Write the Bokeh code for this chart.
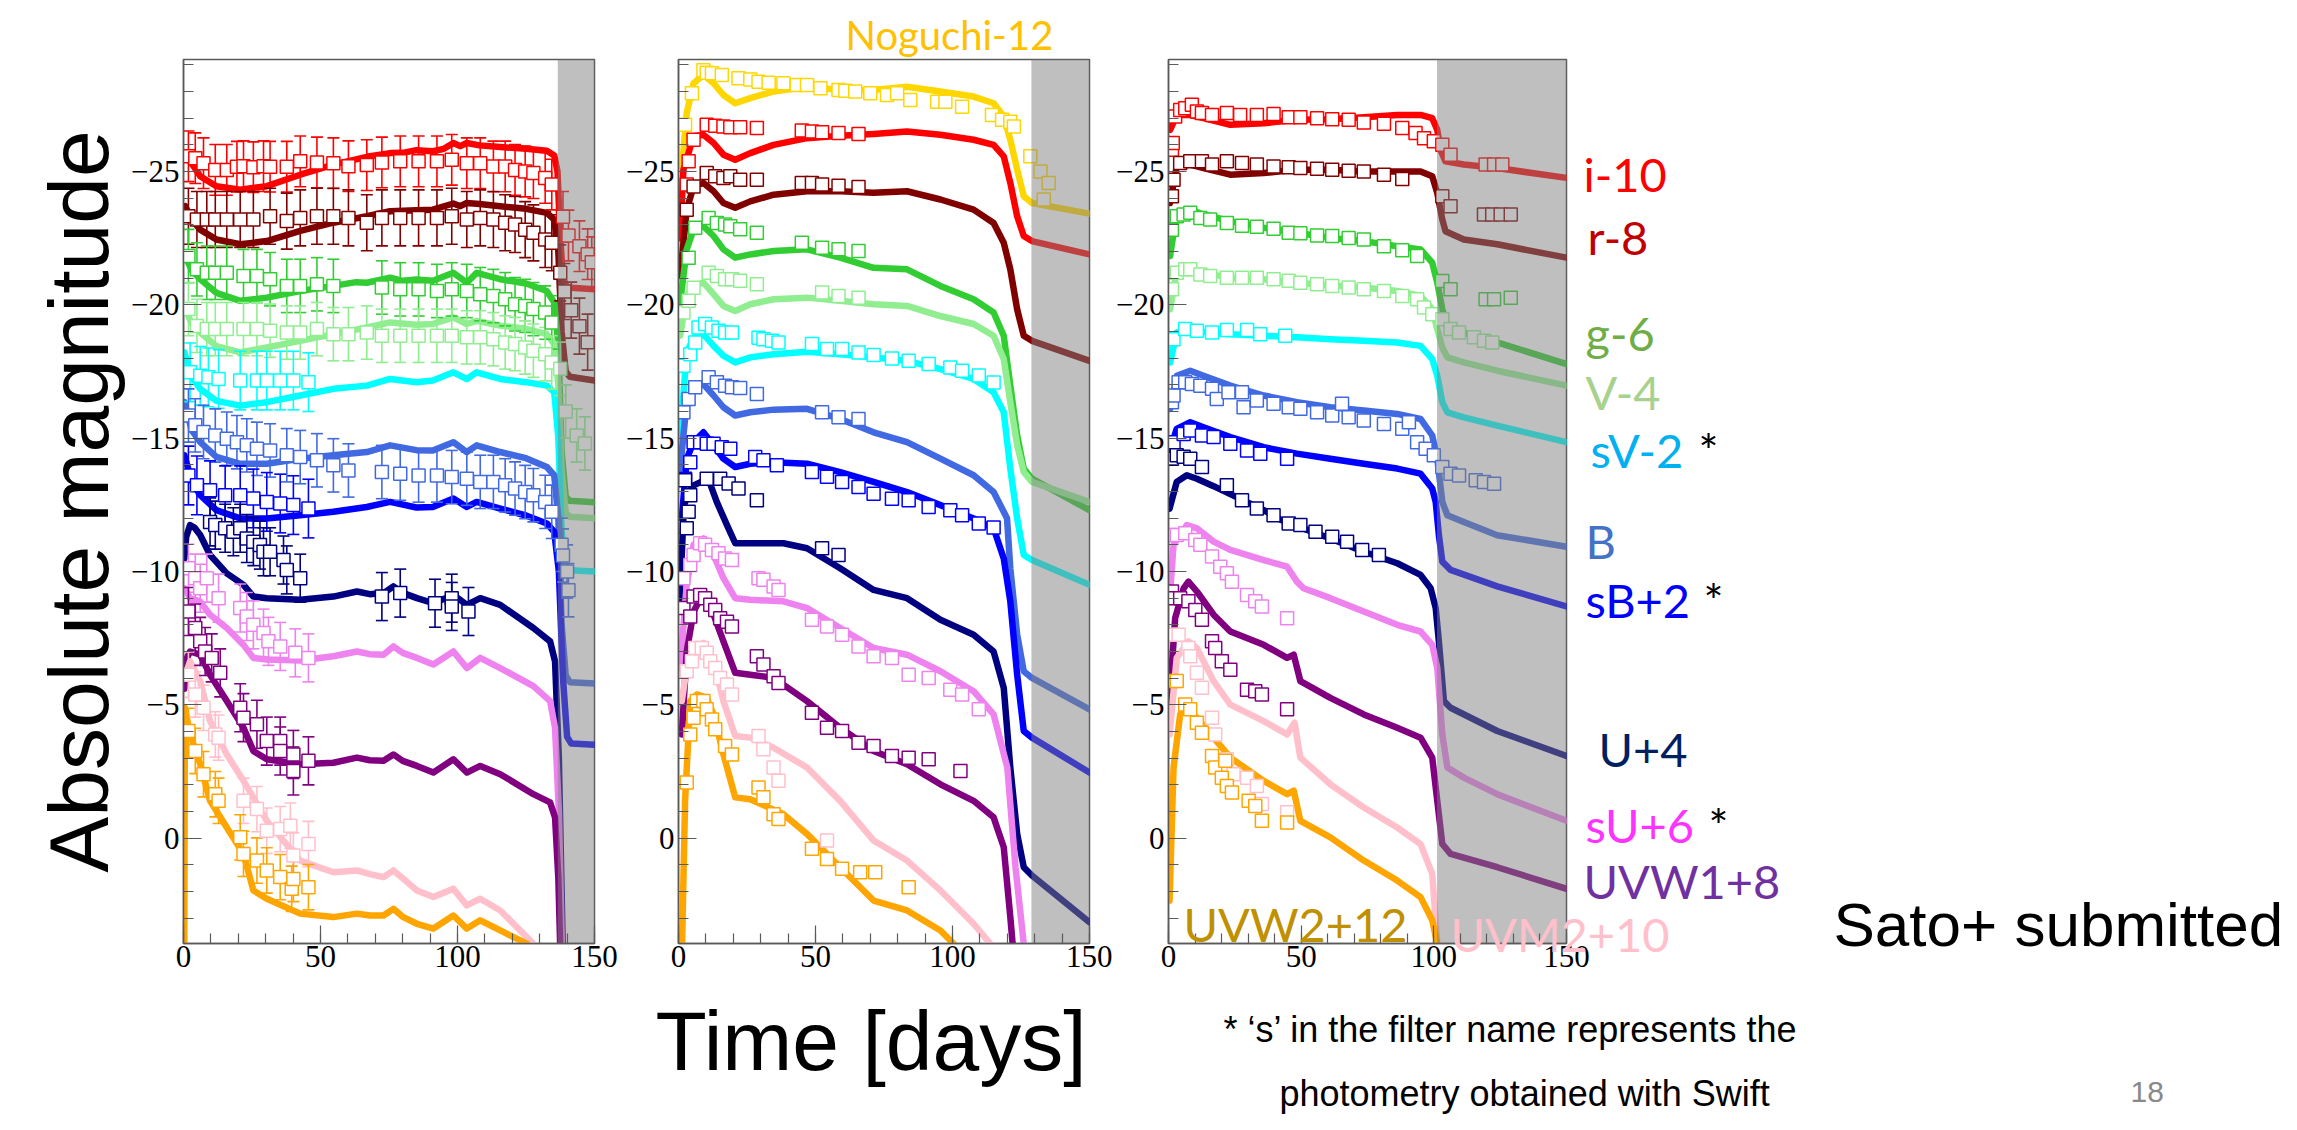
from bokeh.plotting import figure
from bokeh.models import Range1d, SingleIntervalTicker, CustomJSTickFormatter, Label, Title
from bokeh.layouts import row
from bokeh.embed import file_html
from bokeh.resources import INLINE

# ---------------------------------------------------------------- bands
BANDS = ["Noguchi", "i", "r", "g", "V", "sV", "B", "sB", "U", "sU", "UVW1", "UVM2", "UVW2"]
BAND_COLORS = ["#FFD700", "#FF0000", "#800000", "#32CD32", "#90EE90", "#00FFFF", "#4169E1",
               "#0000FF", "#000080", "#EE82EE", "#800080", "#FFC0CB", "#FFA500"]
P1_ERR = [0, 0.95, 1.05, 1.0, 1.0, 1.1, 1.0, 1.1, 0.9, 0.9, 0.9, 0.85, 0.85]
GREY_START = [136.6, 128.8, 101.2]

# ---------------------------------------------------------------- panel 1 models (t [d], mag)
p1_model_i = [(0.6,-25.6),(3,-25.3),(6.1,-24.82),(12,-24.45),(20.7,-24.32),(30.4,-24.45),(42.6,-24.88),(54.7,-25.26),(66.9,-25.55),(75.4,-25.69),(80,-25.7),(85,-25.8),(91,-25.76),(95,-25.85),(98.5,-26.07),(101,-25.95),(103.4,-26.07),(108,-25.98),(115.6,-25.92),(125,-25.85),(132.6,-25.78),(135.3,-25.6),(136.5,-25.0),(137.5,-22.5),(138.5,-21.0),(140,-20.65),(150,-20.58)]
p1_model_r = [(0.6,-23.7),(3,-23.2),(6.1,-22.82),(12,-22.45),(20.7,-22.27),(30.4,-22.39),(42.6,-22.77),(54.7,-23.08),(66.9,-23.32),(75.4,-23.51),(85,-23.55),(91,-23.57),(98.5,-23.8),(101,-23.7),(103.4,-23.82),(108,-23.78),(115.6,-23.7),(125,-23.6),(132.6,-23.45),(135.3,-23.2),(136.8,-22.0),(138,-19.0),(139.5,-17.5),(141,-17.3),(150,-17.16)]
p1_model_g = [(0.6,-21.83),(3,-21.3),(6.1,-20.96),(12,-20.45),(20.7,-20.15),(30.4,-20.27),(42.6,-20.52),(54.7,-20.71),(63,-20.85),(66.9,-20.83),(75.4,-21.02),(80,-20.9),(85,-20.95),(91,-20.9),(98.5,-21.2),(103.4,-20.83),(107,-21.2),(115.6,-20.96),(125,-20.8),(132.6,-20.52),(135.3,-20.09),(136.8,-18.5),(138,-14.5),(139.5,-12.8),(141,-12.65),(150,-12.6)]
p1_model_V = [(0.6,-19.84),(3,-19.3),(6.1,-18.96),(12,-18.45),(20.7,-18.22),(30.4,-18.4),(42.6,-18.65),(54.7,-18.9),(66.9,-19.15),(75.4,-19.34),(85,-19.25),(91,-19.28),(98.5,-19.53),(103.4,-19.28),(107,-19.4),(115.6,-19.22),(125,-19.1),(132.6,-18.9),(135.3,-18.53),(136.8,-17.0),(138,-13.8),(139.5,-12.2),(141,-12.05),(150,-12.0)]
p1_model_sV = [(0.3,-18.22),(3,-17.3),(6.1,-16.85),(12,-16.4),(20.7,-16.22),(30.4,-16.35),(42.6,-16.6),(54.7,-16.85),(66.9,-16.97),(75.4,-17.22),(85,-17.1),(91,-17.16),(98.5,-17.47),(103.4,-17.22),(107,-17.47),(115.6,-17.22),(125,-17.1),(132.6,-16.97),(135.3,-16.72),(136.8,-15.0),(138,-11.5),(139.5,-10.2),(141,-10.05),(150,-10.0)]
p1_model_B = [(0.3,-16.35),(3,-15.3),(6.1,-14.85),(12,-14.3),(20.7,-14.04),(30.4,-14.04),(42.6,-14.23),(54.7,-14.36),(66.9,-14.48),(75.4,-14.73),(85,-14.55),(91,-14.54),(98.5,-14.85),(103.4,-14.48),(107,-14.73),(115.6,-14.48),(125,-14.25),(132.6,-13.92),(135.3,-13.61),(136.8,-12.0),(138,-8.0),(139.5,-6.1),(141,-5.85),(150,-5.8)]
p1_model_sB = [(0.3,-14.36),(3,-13.4),(6.1,-12.86),(12,-12.3),(20.7,-11.99),(30.4,-11.99),(42.6,-12.11),(54.7,-12.24),(66.9,-12.42),(75.4,-12.61),(85,-12.4),(91,-12.42),(98.5,-12.74),(103.4,-12.42),(107,-12.61),(115.6,-12.36),(125,-12.1),(132.6,-11.8),(135.3,-11.49),(137,-10.0),(138.5,-6.0),(140,-3.8),(141.5,-3.55),(150,-3.5)]
p1_model_U = [(0.3,-10.5),(1,-11.3),(2.4,-11.74),(4,-11.65),(6.1,-11.37),(9.7,-10.62),(15.8,-9.93),(21.9,-9.5),(25.5,-9.06),(30.4,-9.0),(42.6,-8.94),(54.7,-9.06),(63.3,-9.25),(68,-9.15),(73,-9.19),(76.6,-9.44),(80,-9.2),(85.2,-9.0),(91.2,-8.81),(98.5,-9.12),(103.4,-8.75),(108.3,-9.0),(115.6,-8.75),(127.7,-7.88),(133.8,-7.38),(135.6,-6.63),(137,-3.0),(138.5,4.5)]
p1_model_sU = [(0.4,-9.37),(2.4,-9.0),(6.1,-8.87),(9.7,-8.38),(15.8,-7.88),(21.9,-7.25),(25.5,-6.76),(30.4,-6.7),(42.6,-6.66),(54.7,-6.82),(63.3,-7.0),(68,-6.9),(73,-6.88),(76.6,-7.19),(80,-6.95),(85.2,-6.76),(91.2,-6.51),(98.5,-7.0),(103.4,-6.38),(108.3,-6.76),(115.6,-6.38),(127.7,-5.7),(133.8,-5.14),(135.6,-4.14),(137,-1.0),(138.2,4.5)]
p1_model_UVW1 = [(0.3,-5.6),(1,-6.7),(2.4,-7.0),(6.1,-6.88),(9.7,-6.13),(15.8,-5.14),(21.9,-4.14),(25.5,-3.27),(30.4,-2.96),(42.6,-2.77),(54.7,-2.83),(63.3,-3.02),(68,-2.92),(73,-2.9),(76.6,-3.14),(80,-2.9),(85.2,-2.71),(91.2,-2.46),(98.5,-2.96),(103.4,-2.46),(108.3,-2.71),(115.6,-2.4),(127.7,-1.65),(133.8,-1.34),(135.6,-0.78),(136.8,1.5),(137.6,4.5)]
p1_model_UVM2 = [(0.3,-6.0),(2.4,-6.63),(6.1,-5.89),(9.7,-4.39),(15.8,-3.14),(21.9,-2.15),(25.5,-1.53),(30.4,-0.65),(42.6,0.84),(54.7,1.28),(63.3,1.21),(68,1.35),(73,1.46),(76.6,1.21),(80,1.5),(85.2,1.96),(91.2,2.21),(98.5,1.9),(103.4,2.52),(108.3,2.27),(115.6,2.71),(127.7,3.96),(130,4.3)]
p1_model_UVW2 = [(0.3,4.0),(0.5,-4.9),(2.4,-3.89),(6.1,-2.77),(9.7,-1.4),(15.8,-0.4),(21.9,0.59),(25.5,1.96),(30.4,2.27),(42.6,2.83),(54.7,2.96),(63.3,2.83),(68,2.9),(73,2.9),(76.6,2.65),(80,2.95),(85.2,3.21),(91.2,3.39),(98.5,2.9),(103.4,3.39),(108.3,3.08),(115.6,3.46),(125.3,3.96),(127,4.3)]

# ---------------------------------------------------------------- panel 1 observations (t [d], mag)
p1_obs_i = [(1.8,-25.57),(4.3,-25.5),(7.3,-25.31),(11.6,-25.06),(15.8,-25.06),(19.5,-25.18),(21.9,-25.2),(25.5,-25.16),(29.2,-25.2),(31.6,-25.18),(37.7,-25.18),(42.6,-25.38),(48.7,-25.34),(54.7,-25.31),(60.2,-25.2),(66.9,-25.24),(72.4,-25.34),(79.1,-25.38),(85.8,-25.38),(92.5,-25.38),(97.9,-25.44),(103.4,-25.31),(108.3,-25.31),(113.1,-25.19),(117.4,-25.19),(121.0,-25.06),(124.7,-25.0),(127.7,-24.94),(132.0,-24.76),(134.4,-24.51),(138.5,-23.3),(140.5,-22.6),(144.5,-22.2),(147.5,-21.9),(149.0,-21.6)]
p1_obs_r = [(1.8,-23.32),(4.9,-23.2),(8.5,-23.2),(11.6,-23.2),(15.8,-23.2),(20.7,-23.2),(25.5,-23.2),(31.6,-23.32),(37.7,-23.14),(42.6,-23.26),(48.7,-23.32),(54.7,-23.32),(60.2,-23.26),(66.9,-23.08),(72.4,-23.26),(79.1,-23.26),(85.8,-23.26),(92.5,-23.26),(97.9,-23.32),(103.4,-23.2),(108.3,-23.26),(113.1,-23.2),(117.4,-23.08),(121.0,-23.01),(124.7,-22.82),(127.7,-22.7),(132.0,-22.45),(134.4,-22.33),(137.5,-21.2),(139,-20.5),(141.5,-19.8),(144.5,-19.2),(147.5,-18.6)]
p1_obs_g = [(1.8,-21.83),(4.9,-21.33),(8.5,-21.2),(11.6,-21.2),(15.8,-21.2),(21.9,-21.08),(26.8,-21.08),(31.6,-20.96),(37.7,-20.71),(42.6,-20.71),(48.7,-20.77),(54.7,-20.71),(72.4,-20.65),(79.1,-20.58),(85.8,-20.58),(92.5,-20.52),(97.9,-20.58),(103.4,-20.52),(108.3,-20.4),(113.1,-20.33),(117.4,-20.21),(121.0,-20.02),(124.7,-19.96),(127.7,-19.84),(132.0,-19.71),(134.4,-19.34)]
p1_obs_V = [(1.8,-19.84),(4.9,-19.21),(8.5,-19.09),(11.6,-19.09),(15.8,-19.09),(21.9,-19.09),(26.8,-19.09),(31.6,-19.03),(37.7,-18.96),(42.6,-18.96),(48.7,-19.09),(54.7,-18.9),(60.2,-18.9),(66.9,-18.96),(72.4,-18.84),(79.1,-18.84),(85.8,-18.84),(92.5,-18.84),(97.9,-18.84),(103.4,-18.78),(108.3,-18.78),(113.1,-18.71),(117.4,-18.59),(121.0,-18.53),(124.7,-18.4),(127.7,-18.28),(132.0,-18.15),(134.4,-17.84),(137.5,-17.6),(139.5,-16.0),(143.5,-15.1),(146.5,-14.8)]
p1_obs_sV = [(2.4,-17.47),(6.1,-17.34),(9.1,-17.28),(12.8,-17.22),(20.7,-17.16),(26.8,-17.16),(30.4,-17.16),(35.3,-17.16),(40.1,-17.16),(45.6,-17.1)]
p1_obs_B = [(1.8,-15.85),(4.3,-15.48),(7.3,-15.23),(11.6,-15.1),(15.8,-14.98),(19.5,-14.85),(23.1,-14.73),(26.8,-14.6),(31.6,-14.54),(37.7,-14.36),(42.6,-14.29),(48.7,-14.17),(54.7,-13.98),(60.2,-13.79),(72.4,-13.73),(79.1,-13.67),(85.8,-13.6),(92.5,-13.6),(97.9,-13.54),(103.4,-13.48),(108.3,-13.36),(113.1,-13.36),(117.4,-13.23),(121.0,-13.11),(124.7,-12.98),(127.7,-12.86),(132.0,-12.61),(134.4,-12.24),(138.0,-11.0),(138.5,-10.6),(140.0,-10.0),(140.5,-9.3)]
p1_obs_sB = [(1.8,-13.6),(4.9,-13.23),(9.7,-13.05),(15.2,-12.86),(20.7,-12.86),(25.5,-12.74),(30.4,-12.61),(35.3,-12.55),(40.1,-12.49),(45.6,-12.36)]
p1_obs_U = [(9.7,-11.86),(11.6,-11.74),(15.2,-11.62),(18.2,-11.49),(20.7,-11.62),(23.1,-11.24),(25.5,-11.12),(27.9,-10.99),(29.2,-10.74),(31.6,-10.74),(36.5,-10.43),(37.7,-10.06),(42.6,-9.75),(72.4,-9.06),(79.1,-9.19),(91.8,-8.81),(97.9,-9.0),(97.9,-8.69),(104.0,-8.5)]
p1_obs_sU = [(1.8,-10.12),(4.3,-9.75),(6.1,-9.37),(8.5,-9.75),(12.8,-9.0),(20.7,-8.63),(23.1,-8.31),(25.5,-8.0),(29.2,-7.69),(31.0,-7.38),(35.3,-7.19),(40.8,-6.95),(45.6,-6.76)]
p1_obs_UVW1 = [(1.8,-8.5),(4.3,-7.88),(6.1,-7.38),(7.9,-7.0),(10.3,-6.76),(13.4,-6.2),(20.7,-4.89),(21.9,-4.52),(26.8,-4.27),(30.4,-3.64),(35.3,-3.64),(35.3,-3.27),(40.1,-3.14),(40.1,-2.52),(45.6,-2.9)]
p1_obs_UVM2 = [(1.8,-6.13),(4.3,-5.39),(7.3,-4.89),(11.6,-3.89),(12.8,-3.77),(21.9,-1.4),(26.8,-1.09),(30.4,-0.28),(35.3,-0.34),(39.0,-0.47),(40.1,0.65),(45.6,0.22)]
p1_obs_UVW2 = [(1.8,-4.02),(4.3,-3.27),(7.3,-2.4),(11.6,-1.65),(12.8,-1.4),(20.7,-0.03),(21.9,0.59),(26.8,0.84),(30.4,1.21),(35.3,1.46),(39.5,1.9),(40.1,1.53),(45.6,1.84)]

# ---------------------------------------------------------------- panel 2 models
p2_model_Noguchi = [(0.6,-22.0),(1.2,-25.07),(3.0,-27.19),(5.5,-28.31),(9.1,-28.62),(12.8,-28.31),(16.4,-27.87),(20.7,-27.56),(26.2,-27.75),(34.7,-28.0),(46.9,-28.18),(59.0,-28.06),(71.2,-28.06),(83.4,-28.18),(95.6,-28.0),(107.7,-27.81),(115.0,-27.56),(118.7,-27.06),(121.1,-26.19),(123.6,-25.07),(126.0,-24.07),(129.0,-23.82),(150,-23.42)]
p2_model_i = [(0.6,-22.5),(1.8,-25.07),(5.5,-26.32),(9.1,-26.38),(12.8,-26.07),(16.4,-25.63),(20.7,-25.44),(26.2,-25.69),(34.7,-26.0),(46.9,-26.25),(59.0,-26.34),(71.2,-26.41),(83.4,-26.5),(95.6,-26.38),(107.7,-26.19),(115.0,-26.0),(118.7,-25.57),(121.1,-24.57),(123.6,-23.32),(126.0,-22.58),(129.0,-22.39),(150,-21.89)]
p2_model_r = [(0.6,-21.08),(3.0,-23.57),(5.5,-24.44),(9.1,-24.57),(12.8,-24.26),(16.4,-23.82),(20.7,-23.64),(26.2,-23.88),(34.7,-24.13),(46.9,-24.26),(59.0,-24.26),(71.2,-24.2),(83.4,-24.26),(95.6,-23.95),(107.7,-23.57),(115.0,-23.07),(118.7,-22.33),(121.1,-21.33),(123.6,-19.83),(126.0,-18.84),(129.0,-18.65),(150,-17.9)]
p2_model_g = [(0.6,-20.08),(3.0,-22.08),(5.5,-22.83),(9.1,-22.95),(12.8,-22.58),(16.4,-22.08),(20.7,-21.77),(26.2,-21.89),(34.7,-22.02),(46.9,-22.08),(59.0,-21.77),(71.2,-21.39),(83.4,-21.33),(95.6,-20.71),(107.7,-20.21),(115.0,-19.71),(118.7,-18.84),(121.1,-16.97),(123.6,-15.1),(126.0,-13.86),(129.0,-13.48),(150,-12.3)]
p2_model_V = [(0.6,-18.84),(3.0,-20.33),(5.5,-20.71),(9.1,-20.83),(12.8,-20.4),(16.4,-19.96),(20.7,-19.77),(26.2,-20.02),(34.7,-20.21),(46.9,-20.27),(59.0,-20.15),(71.2,-20.02),(83.4,-19.96),(95.6,-19.58),(107.7,-19.28),(115.0,-18.84),(118.7,-17.97),(121.1,-16.35),(123.6,-14.73),(126.0,-13.73),(129.0,-13.36),(150,-12.61)]
p2_model_sV = [(0.6,-15.1),(3.0,-18.21),(5.5,-18.77),(9.1,-18.9),(12.8,-18.46),(16.4,-18.09),(20.7,-17.84),(26.2,-18.03),(34.7,-18.15),(46.9,-18.24),(59.0,-18.15),(71.2,-18.03),(83.4,-17.9),(95.6,-17.59),(107.7,-17.22),(115.0,-16.72),(118.7,-15.97),(121.1,-13.86),(123.6,-11.99),(126.0,-10.62),(129.0,-10.43),(150,-9.5)]
p2_model_B = [(0.6,-13.86),(3.0,-16.35),(5.5,-16.85),(9.1,-17.03),(12.8,-16.6),(16.4,-16.16),(20.7,-15.85),(26.2,-15.97),(34.7,-16.07),(46.9,-16.1),(59.0,-15.72),(71.2,-15.22),(83.4,-14.85),(95.6,-14.23),(107.7,-13.61),(115.0,-12.98),(118.7,-12.24),(119.9,-11.99),(121.1,-10.12),(123.6,-7.63),(126.0,-6.26),(129.0,-6.01),(150,-4.83)]
p2_model_sB = [(1.2,-11.99),(3.0,-14.23),(5.5,-14.85),(9.1,-15.22),(12.8,-14.73),(16.4,-14.23),(20.7,-13.92),(26.2,-14.04),(34.7,-14.1),(46.9,-14.04),(59.0,-13.73),(71.2,-13.36),(83.4,-12.98),(95.6,-12.49),(107.7,-11.99),(115.0,-11.62),(118.7,-10.49),(121.1,-8.88),(123.6,-6.13),(126.0,-4.02),(129.0,-3.77),(150,-2.46)]
p2_model_U = [(0.5,-9.0),(2.0,-12.5),(5.0,-13.2),(9.0,-13.4),(11.5,-13.3),(14.0,-12.6),(17.7,-11.74),(20.7,-11.06),(26.2,-11.06),(38.3,-11.06),(46.9,-10.87),(59.0,-10.12),(71.2,-9.31),(83.4,-9.0),(95.6,-8.19),(107.7,-7.63),(115.0,-7.0),(118.7,-5.64),(121.1,-2.65),(123.6,-0.16),(126.0,1.09),(129.0,1.4),(150,3.15)]
p2_model_sU = [(0.6,-6.38),(3.0,-9.5),(5.5,-11.0),(9.1,-11.24),(12.8,-10.62),(16.4,-9.75),(20.7,-9.0),(26.2,-8.94),(38.3,-8.88),(46.9,-8.63),(59.0,-7.88),(71.2,-7.13),(83.4,-6.88),(95.6,-6.26),(107.7,-5.51),(115.0,-4.64),(120.0,-2.65),(123.0,1.09),(126.0,3.96),(127,4.5)]
p2_model_UVW1 = [(1.2,-3.89),(3.0,-7.0),(5.5,-8.5),(9.1,-9.19),(12.8,-8.38),(16.4,-7.38),(20.7,-6.2),(26.2,-6.13),(34.7,-6.01),(46.9,-5.14),(59.0,-4.14),(71.2,-3.27),(83.4,-2.77),(95.6,-2.02),(107.7,-1.4),(115.0,-0.78),(118.7,0.34),(121.1,2.96),(122.4,4.5)]
p2_model_UVM2 = [(1.2,-5.14),(3.0,-6.38),(5.5,-7.0),(9.1,-7.32),(12.8,-6.63),(16.4,-5.14),(20.7,-3.83),(26.2,-3.77),(34.7,-3.39),(46.9,-2.65),(59.0,-1.4),(71.2,0.09),(83.4,0.84),(95.6,1.96),(107.7,3.21),(113.8,3.96),(115,4.3)]
p2_model_UVW2 = [(1.2,4.5),(2.4,-1.4),(4.3,-5.14),(6.7,-5.39),(10.3,-5.26),(12.8,-4.64),(16.4,-3.14),(20.7,-1.53),(26.2,-1.46),(38.3,-0.9),(46.9,-0.16),(59.0,1.09),(71.2,2.34),(83.4,2.71),(95.6,3.46),(100.4,3.96),(101.5,4.3)]

# ---------------------------------------------------------------- panel 2 observations
p2_obs_Noguchi = [(2.4,-26.75),(4.9,-27.93),(9.1,-28.8),(10.3,-28.7),(12.2,-28.68),(15.8,-28.62),(21.9,-28.5),(26.2,-28.45),(29.2,-28.37),(32.9,-28.33),(38.3,-28.31),(43.2,-28.24),(46.9,-28.24),(51.8,-28.12),(58.4,-28.06),(60.9,-28.03),(64.5,-28.0),(70.0,-27.93),(76.1,-27.87),(79.8,-27.93),(84.6,-27.68),(94.4,-27.62),(97.4,-27.62),(103.5,-27.43),(114.4,-27.12),(118.1,-26.94),(121.1,-26.87),(122.4,-26.69),(128.4,-25.57),(132.1,-25.0),(135.1,-24.57),(133.3,-23.95)]
p2_obs_i = [(3.0,-24.51),(3.7,-25.38),(5.5,-26.19),(10.3,-26.75),(13.4,-26.72),(16.4,-26.69),(18.9,-26.66),(22.5,-26.66),(28.6,-26.63),(45.0,-26.54),(48.7,-26.5),(52.4,-26.47),(58.4,-26.44),(65.7,-26.41)]
p2_obs_r = [(3.0,-23.57),(5.5,-24.44),(10.3,-24.94),(13.4,-24.82),(16.4,-24.76),(18.9,-24.82),(22.5,-24.69),(28.6,-24.69),(45.0,-24.57),(48.7,-24.57),(52.4,-24.51),(58.4,-24.47),(65.7,-24.42)]
p2_obs_g = [(3.7,-21.77),(6.1,-22.89),(11.0,-23.26),(14.0,-23.07),(17.0,-23.01),(18.9,-22.95),(22.5,-22.83),(28.6,-22.7),(45.0,-22.33),(52.4,-22.14),(58.4,-22.08),(65.7,-22.02)]
p2_obs_V = [(1.8,-19.71),(3.7,-20.15),(5.5,-20.64),(11.0,-21.2),(14.0,-21.08),(17.0,-20.96),(19.5,-20.96),(22.5,-20.9),(28.6,-20.77),(52.4,-20.46),(58.4,-20.33),(65.7,-20.27)]
p2_obs_sV = [(1.8,-17.72),(4.3,-18.15),(6.1,-18.59),(7.3,-19.15),(9.7,-19.28),(12.2,-19.15),(14.6,-19.03),(17.0,-18.96),(19.5,-18.96),(29.2,-18.77),(31.0,-18.71),(34.1,-18.65),(36.5,-18.59),(48.7,-18.53),(54.2,-18.34),(59.7,-18.34),(65.7,-18.21),(71.2,-18.12),(77.9,-17.99),(84.0,-17.9),(91.3,-17.78),(99.2,-17.65),(103.5,-17.53),(109.6,-17.35),(115.0,-17.09)]
p2_obs_B = [(1.8,-15.97),(3.7,-16.47),(6.1,-16.91),(11.0,-17.28),(14.0,-17.1),(17.0,-16.97),(19.5,-16.91),(22.5,-16.88),(28.6,-16.66),(52.4,-15.97),(58.4,-15.78),(65.7,-15.72)]
p2_obs_sB = [(2.4,-13.48),(4.3,-14.1),(5.5,-14.85),(7.9,-14.85),(10.3,-14.79),(12.8,-14.79),(15.8,-14.66),(18.9,-14.6),(28.0,-14.29),(31.0,-14.17),(35.9,-13.98),(48.7,-13.73),(54.2,-13.55),(59.7,-13.36),(65.7,-13.17),(71.2,-12.92),(77.9,-12.73),(84.0,-12.67),(91.3,-12.42),(99.2,-12.3),(103.5,-12.11),(109.6,-11.8),(115.0,-11.65)]
p2_obs_U = [(2.4,-13.42),(3.0,-11.62),(3.7,-12.24),(4.3,-12.86),(10.3,-13.48),(15.2,-13.48),(18.3,-13.3),(21.9,-13.11),(28.6,-12.67),(52.4,-10.87),(58.4,-10.62)]
p2_obs_sU = [(1.8,-9.75),(4.3,-10.24),(5.5,-10.62),(7.9,-11.06),(9.7,-11.0),(12.2,-10.81),(14.6,-10.68),(17.0,-10.49),(19.5,-10.43),(29.2,-9.75),(31.0,-9.69),(34.7,-9.44),(36.5,-9.31),(48.7,-8.19),(54.2,-7.94),(59.7,-7.63),(65.7,-7.19),(71.2,-6.82),(77.9,-6.76),(84.0,-6.13),(91.3,-6.01),(99.2,-5.57),(103.5,-5.39),(109.6,-4.83)]
p2_obs_UVW1 = [(1.8,-8.63),(4.3,-8.31),(5.5,-9.06),(7.9,-9.12),(9.7,-9.0),(11.6,-8.75),(13.4,-8.56),(15.2,-8.25),(17.7,-8.12),(19.5,-7.94),(28.6,-6.82),(31.0,-6.51),(34.7,-6.07),(36.5,-5.82),(48.7,-4.7),(54.2,-4.14),(59.7,-4.02),(65.7,-3.58),(71.2,-3.46),(77.9,-3.08),(84.0,-3.02),(91.3,-2.96),(102.9,-2.52)]
p2_obs_UVM2 = [(3.0,-6.26),(4.9,-6.63),(6.1,-7.13),(8.5,-7.13),(10.3,-6.95),(11.6,-6.63),(13.4,-6.38),(15.2,-6.01),(17.7,-5.76),(19.5,-5.39),(29.2,-3.83),(31.0,-3.33),(34.7,-2.65),(36.5,-2.15),(54.2,0.09)]
p2_obs_UVW2 = [(3.0,-2.09),(4.3,-3.89),(5.5,-4.52),(6.7,-5.14),(9.1,-5.14),(10.3,-4.83),(12.2,-4.45),(13.4,-4.08),(17.0,-3.46),(19.5,-3.14),(29.2,-1.9),(31.0,-1.53),(34.7,-0.9),(36.5,-0.72),(48.7,0.4),(54.2,0.78),(59.7,1.15),(66.3,1.28),(71.8,1.28),(84.0,1.84)]

# ---------------------------------------------------------------- panel 3 models
p3_model_i = [(0.6,-26.56),(3.1,-27.12),(8.2,-27.12),(13.2,-27.0),(23.3,-26.75),(35.9,-26.81),(48.4,-26.94),(61.0,-26.96),(73.6,-27.03),(86.2,-27.12),(95.0,-27.12),(99.4,-27.0),(101.3,-26.56),(102.5,-25.82),(104.4,-25.38),(111.3,-25.26),(123.9,-25.13),(150,-24.76)]
p3_model_r = [(0.6,-23.82),(3.1,-25.19),(8.2,-25.26),(13.2,-25.13),(23.3,-24.88),(35.9,-24.94),(48.4,-25.07),(61.0,-25.07),(73.6,-25.0),(86.2,-25.0),(95.0,-25.0),(99.4,-24.82),(101.3,-24.19),(103.2,-23.2),(104.4,-22.76),(111.3,-22.45),(123.9,-22.27),(150,-21.77)]
p3_model_g = [(0.6,-21.83),(3.1,-23.45),(8.2,-23.57),(13.2,-23.39),(23.3,-23.14),(35.9,-22.89),(48.4,-22.7),(61.0,-22.51),(73.6,-22.39),(86.2,-22.2),(95.0,-22.08),(99.4,-21.58),(101.3,-20.83),(103.2,-19.83),(105.1,-19.21),(111.3,-18.96),(123.9,-18.59),(150,-17.78)]
p3_model_V = [(0.6,-19.84),(3.1,-21.27),(8.2,-21.39),(13.2,-21.2),(23.3,-21.02),(35.9,-20.96),(48.4,-20.83),(61.0,-20.73),(73.6,-20.65),(86.2,-20.52),(95.0,-20.33),(99.4,-19.84),(101.3,-19.09),(103.2,-18.4),(105.1,-18.03),(111.3,-17.84),(123.9,-17.53),(150,-16.97)]
p3_model_sV = [(0.6,-17.84),(3.1,-18.96),(8.2,-19.03),(23.3,-18.9),(35.9,-18.84),(48.4,-18.78),(61.0,-18.71),(73.6,-18.65),(86.2,-18.59),(95.0,-18.46),(99.4,-17.97),(101.3,-17.34),(103.2,-16.35),(105.1,-15.97),(111.3,-15.78),(123.9,-15.47),(150,-14.85)]
p3_model_B = [(0.6,-16.1),(3.1,-17.34),(8.2,-17.53),(13.2,-17.34),(23.3,-16.97),(35.9,-16.6),(48.4,-16.35),(61.0,-16.16),(73.6,-16.04),(86.2,-15.91),(95.0,-15.72),(99.4,-15.1),(101.3,-14.23),(103.2,-12.61),(105.1,-12.11),(111.3,-11.86),(123.9,-11.36),(150,-10.93)]
p3_model_sB = [(0.4,-14.48),(3.1,-15.35),(8.2,-15.6),(13.2,-15.41),(23.3,-15.04),(35.9,-14.66),(48.4,-14.42),(61.0,-14.23),(73.6,-14.04),(86.2,-13.86),(95.0,-13.67),(99.4,-13.11),(100.7,-12.61),(101.9,-11.37),(103.2,-10.37),(106.3,-10.06),(123.9,-9.44),(150,-8.69)]
p3_model_U = [(0.4,-12.36),(3.1,-13.36),(6.9,-13.61),(10.7,-13.48),(17.0,-13.2),(23.3,-12.9),(35.9,-12.3),(42.1,-11.95),(48.4,-11.7),(61.0,-11.24),(73.6,-10.74),(86.2,-10.31),(95.0,-9.87),(98.8,-9.37),(100.7,-8.63),(101.9,-7.38),(103.8,-5.14),(106.3,-4.89),(123.9,-4.02),(150,-3.08)]
p3_model_sU = [(0.4,-8.88),(1.9,-11.0),(6.9,-11.74),(10.7,-11.62),(17.0,-11.12),(23.3,-10.81),(35.9,-10.43),(44.7,-10.18),(48.4,-9.62),(50.9,-9.37),(61.0,-9.0),(73.6,-8.5),(86.2,-8.0),(95.0,-7.75),(99.4,-7.25),(101.3,-6.38),(103.2,-3.89),(105.1,-2.65),(111.3,-2.27),(123.9,-1.65),(150,-0.65)]
p3_model_UVW1 = [(0.4,-5.14),(2.5,-8.25),(5.7,-9.37),(7.5,-9.62),(10.7,-9.25),(17.0,-8.38),(23.3,-7.75),(35.9,-7.25),(44.7,-6.76),(47.2,-6.88),(49.7,-5.89),(61.0,-5.26),(73.6,-4.64),(86.2,-4.14),(95.0,-3.77),(99.4,-3.02),(101.3,-1.4),(103.2,0.22),(106.3,0.59),(123.9,1.09),(150,1.9)]
p3_model_UVM2 = [(0.4,-3.89),(3.1,-6.76),(7.5,-7.38),(10.7,-7.13),(17.0,-5.89),(23.3,-5.01),(35.9,-4.39),(44.7,-3.89),(47.5,-4.33),(49.7,-3.02),(61.0,-2.02),(73.6,-1.15),(86.2,-0.4),(95.0,0.22),(99.4,1.34),(101.3,3.96),(101.8,4.5)]
p3_model_UVW2 = [(0.4,2.34),(1.9,-2.65),(4.4,-4.64),(5.7,-4.89),(10.7,-4.52),(17.0,-3.77),(23.3,-3.02),(35.9,-2.15),(44.7,-1.65),(47.2,-1.78),(49.7,-0.65),(61.0,-0.03),(73.6,0.84),(86.2,1.59),(95.0,2.21),(99.4,3.08),(101.3,3.96),(102,4.5)]

# ---------------------------------------------------------------- panel 3 observations
p3_obs_i = [(1.3,-25.82),(1.6,-26.07),(2.5,-27.06),(4.4,-27.31),(6.3,-27.37),(8.8,-27.5),(10.7,-27.25),(12.6,-27.19),(16.4,-27.12),(22.0,-27.19),(27.0,-27.12),(33.3,-27.12),(39.6,-27.16),(45.3,-27.03),(49.7,-27.03),(56.0,-27.0),(61.7,-26.96),(67.9,-26.94),(73.6,-26.84),(81.2,-26.79),(88.1,-26.63),(93.1,-26.44),(96.3,-26.25),(100.0,-26.13),(103.2,-26.0),(106.3,-25.63),(119.5,-25.26),(122.7,-25.26),(125.8,-25.26)]
p3_obs_r = [(1.3,-24.07),(1.9,-24.69),(4.4,-25.32),(8.2,-25.38),(12.6,-25.38),(16.4,-25.26),(22.0,-25.38),(27.7,-25.32),(33.3,-25.26),(39.6,-25.19),(45.3,-25.16),(49.7,-25.13),(56.0,-25.1),(61.7,-25.07),(67.9,-25.03),(73.6,-25.0),(81.2,-24.88),(88.1,-24.72),(103.2,-24.07),(106.3,-23.7),(118.9,-23.39),(122.0,-23.39),(125.2,-23.39),(129.0,-23.39)]
p3_obs_g = [(1.3,-22.82),(3.1,-23.32),(5.7,-23.39),(8.2,-23.45),(12.0,-23.26),(15.7,-23.2),(22.0,-23.07),(27.7,-22.97),(33.3,-22.93),(39.6,-22.85),(45.3,-22.7),(49.7,-22.68),(56.0,-22.6),(61.7,-22.58),(67.9,-22.51),(73.6,-22.45),(81.2,-22.2),(88.1,-22.05),(93.7,-21.83),(103.2,-20.89),(106.3,-20.58),(119.5,-20.21),(122.7,-20.21),(129.0,-20.27)]
p3_obs_V = [(1.3,-20.58),(3.1,-21.2),(6.3,-21.33),(8.2,-21.33),(12.0,-21.14),(15.7,-21.08),(22.0,-21.02),(27.7,-21.02),(33.3,-21.02),(39.6,-20.96),(45.3,-20.9),(49.7,-20.83),(56.0,-20.77),(61.7,-20.71),(67.9,-20.65),(73.6,-20.58),(81.2,-20.52),(88.1,-20.33),(93.7,-20.21),(96.3,-19.9),(99.4,-19.65),(103.2,-19.46),(106.3,-19.09),(109.5,-18.96),(115.1,-18.78),(118.9,-18.65),(122.0,-18.59)]
p3_obs_sV = [(1.9,-18.71),(6.3,-19.09),(10.7,-19.03),(16.4,-18.96),(22.0,-19.06),(29.6,-19.06),(34.6,-18.9),(44.0,-18.84)]
p3_obs_B = [(1.3,-16.35),(1.9,-16.6),(3.8,-17.1),(6.3,-17.1),(8.8,-17.03),(12.0,-16.97),(16.4,-16.85),(18.2,-16.47),(22.6,-16.72),(27.7,-16.72),(28.3,-16.16),(33.3,-16.41),(39.6,-16.29),(45.3,-16.16),(49.7,-16.1),(56.0,-15.97),(61.7,-15.85),(65.4,-16.29),(67.9,-15.78),(73.6,-15.66),(81.2,-15.53),(88.1,-15.35),(90.6,-15.6),(93.7,-14.85),(96.9,-14.6),(100.0,-14.36),(103.2,-13.92),(106.3,-13.67),(109.5,-13.6),(115.8,-13.42),(118.9,-13.36),(122.7,-13.29)]
p3_obs_sB = [(1.9,-14.85),(5.7,-15.16),(8.2,-15.29),(12.6,-15.1),(17.0,-15.04),(23.3,-14.79),(29.6,-14.54),(34.6,-14.42),(44.7,-14.23)]
p3_obs_U = [(1.3,-14.23),(3.1,-14.36),(5.7,-14.3),(8.2,-14.23),(12.6,-13.92),(22.0,-13.23),(27.7,-12.67),(33.3,-12.36),(39.6,-12.11),(45.3,-11.8),(49.7,-11.74),(55.4,-11.49),(61.7,-11.3),(67.3,-11.12),(73.0,-10.81),(79.3,-10.62)]
p3_obs_sU = [(1.3,-11.37),(3.1,-11.37),(6.3,-11.43),(10.1,-11.18),(12.0,-11.0),(16.4,-10.56),(19.5,-10.18),(22.0,-9.93),(23.9,-9.62),(29.6,-9.12),(32.7,-8.88),(35.2,-8.69),(44.7,-8.25)]
p3_obs_UVW1 = [(1.3,-9.25),(1.9,-9.0),(4.4,-9.0),(7.5,-8.88),(10.1,-8.56),(12.6,-8.19),(16.4,-7.38),(17.6,-7.13),(20.1,-6.63),(23.3,-6.32),(29.6,-5.57),(32.7,-5.51),(35.2,-5.39),(44.7,-4.83)]
p3_obs_UVM2 = [(1.9,-7.63),(3.8,-7.63),(7.5,-7.13),(8.2,-6.82),(10.7,-6.2),(12.6,-5.64),(16.4,-4.52),(17.6,-3.89),(22.0,-2.96),(24.5,-2.4),(29.6,-2.27),(33.3,-1.96),(35.2,-1.28),(44.7,-0.97)]
p3_obs_UVW2 = [(1.9,-5.89),(3.1,-5.89),(6.3,-5.01),(8.2,-4.83),(10.7,-4.33),(12.6,-3.95),(16.4,-3.08),(17.6,-2.65),(20.1,-2.27),(21.4,-2.9),(22.0,-1.96),(23.9,-1.71),(30.2,-1.4),(32.7,-1.21),(35.2,-0.65),(44.7,-0.59)]

# ---------------------------------------------------------------- text labels
RIGHT_LABELS = ["i-10", "r-8", "g-6", "V-4", "sV-2", "B", "sB+2", "U+4", "sU+6", "UVW1+8"]
RIGHT_LABEL_COLORS = ["#FF0000", "#C00000", "#70AD47", "#A9D18E", "#00B0F0", "#4472C4",
                      "#0000FF", "#002060", "#FF33FF", "#7030A0"]
SWIFT_LABELS = ["sV-2", "sB+2", "sU+6"]

# ---------------------------------------------------------------- geometry (page px, origin at page top-left)
Y_BOTTOM, Y_TOP = 3.95, -29.2
FIG_H = 1122
PAGE_W = 2297
FRAMES = [dict(left=183.3, right=594.0, top=59.0, bottom=943.0, page_x=0, width=620),
          dict(left=678.3, right=1089.0, top=57.0, bottom=943.0, page_x=620, width=492),
          dict(left=1168.3, right=1565.7, top=56.0, bottom=943.0, page_x=1112, width=1178)]

MINUS_FMT = "return (tick < 0 ? '\\u2212' : '') + Math.abs(tick);"
FRAME_GREY = "#5a5a5a"


def make_fig(fr):
    p = figure(width=fr["width"], height=FIG_H,
               x_range=Range1d(0, 150), y_range=Range1d(Y_BOTTOM, Y_TOP),
               output_backend="svg", toolbar_location=None,
               min_border_left=int(round(fr["left"] - fr["page_x"])),
               min_border_right=int(round(fr["page_x"] + fr["width"] - fr["right"])),
               min_border_top=int(round(fr["top"])),
               min_border_bottom=int(round(FIG_H - fr["bottom"])),
               background_fill_color="white", border_fill_color="white")
    p.xgrid.visible = False
    p.ygrid.visible = False
    p.outline_line_color = FRAME_GREY
    p.outline_line_width = 1.5
    p.xaxis.ticker = SingleIntervalTicker(interval=50, num_minor_ticks=5)
    p.yaxis.ticker = SingleIntervalTicker(interval=5, num_minor_ticks=5)
    p.yaxis.formatter = CustomJSTickFormatter(code=MINUS_FMT)
    for ax in (p.xaxis[0], p.yaxis[0]):
        ax.axis_line_color = FRAME_GREY
        ax.axis_line_width = 1.5
        ax.major_tick_line_color = FRAME_GREY
        ax.minor_tick_line_color = FRAME_GREY
        ax.major_tick_line_width = 1.2
        ax.minor_tick_line_width = 1.2
        ax.major_tick_in = 18
        ax.major_tick_out = 0
        ax.minor_tick_in = 10
        ax.minor_tick_out = 0
        ax.axis_label_standoff = 0
        ax.major_label_text_font = "Liberation Serif"
        ax.major_label_text_font_size = "31px"
        ax.major_label_text_color = "black"
    p.xaxis.major_label_standoff = 2
    p.yaxis.major_label_standoff = 4
    return p


def draw_panel(p, fr, models, obs, errs, grey_start):
    px_per_day = (fr["right"] - fr["left"]) / 150.0
    cap = 6.0 / px_per_day
    for band, color in zip(BANDS, BAND_COLORS):
        if band in models:
            pts = models[band]
            p.line([a for a, b in pts], [b for a, b in pts], line_color=color,
                   line_width=6.5, line_join="round", line_cap="round")
    if errs is not None:
        for band, color, e in zip(BANDS, BAND_COLORS, errs):
            if band in obs and e > 0:
                ts = [a for a, b in obs[band]]
                ms = [b for a, b in obs[band]]
                lo = [m - e for m in ms]
                hi = [m + e for m in ms]
                p.segment(ts, lo, ts, hi, line_color=color, line_width=1.6)
                p.segment([t - cap for t in ts], lo, [t + cap for t in ts], lo, line_color=color, line_width=1.6)
                p.segment([t - cap for t in ts], hi, [t + cap for t in ts], hi, line_color=color, line_width=1.6)
    for band, color in zip(BANDS, BAND_COLORS):
        if band in obs:
            pts = obs[band]
            p.scatter([a for a, b in pts], [b for a, b in pts], marker="square", size=13,
                      fill_color="white", line_color=color, line_width=1.5)
    p.quad(left=[grey_start], right=[150], bottom=[Y_BOTTOM], top=[Y_TOP],
           fill_color="#7f7f7f", fill_alpha=0.5, line_color=None)


P1_MODELS = {"i": p1_model_i, "r": p1_model_r, "g": p1_model_g, "V": p1_model_V, "sV": p1_model_sV,
             "B": p1_model_B, "sB": p1_model_sB, "U": p1_model_U, "sU": p1_model_sU,
             "UVW1": p1_model_UVW1, "UVM2": p1_model_UVM2, "UVW2": p1_model_UVW2}
P1_OBS = {"i": p1_obs_i, "r": p1_obs_r, "g": p1_obs_g, "V": p1_obs_V, "sV": p1_obs_sV,
          "B": p1_obs_B, "sB": p1_obs_sB, "U": p1_obs_U, "sU": p1_obs_sU,
          "UVW1": p1_obs_UVW1, "UVM2": p1_obs_UVM2, "UVW2": p1_obs_UVW2}
P2_MODELS = {"Noguchi": p2_model_Noguchi, "i": p2_model_i, "r": p2_model_r, "g": p2_model_g,
             "V": p2_model_V, "sV": p2_model_sV, "B": p2_model_B, "sB": p2_model_sB,
             "U": p2_model_U, "sU": p2_model_sU, "UVW1": p2_model_UVW1, "UVM2": p2_model_UVM2,
             "UVW2": p2_model_UVW2}
P2_OBS = {"Noguchi": p2_obs_Noguchi, "i": p2_obs_i, "r": p2_obs_r, "g": p2_obs_g, "V": p2_obs_V,
          "sV": p2_obs_sV, "B": p2_obs_B, "sB": p2_obs_sB, "U": p2_obs_U, "sU": p2_obs_sU,
          "UVW1": p2_obs_UVW1, "UVM2": p2_obs_UVM2, "UVW2": p2_obs_UVW2}
P3_MODELS = {"i": p3_model_i, "r": p3_model_r, "g": p3_model_g, "V": p3_model_V, "sV": p3_model_sV,
             "B": p3_model_B, "sB": p3_model_sB, "U": p3_model_U, "sU": p3_model_sU,
             "UVW1": p3_model_UVW1, "UVM2": p3_model_UVM2, "UVW2": p3_model_UVW2}
P3_OBS = {"i": p3_obs_i, "r": p3_obs_r, "g": p3_obs_g, "V": p3_obs_V, "sV": p3_obs_sV,
          "B": p3_obs_B, "sB": p3_obs_sB, "U": p3_obs_U, "sU": p3_obs_sU,
          "UVW1": p3_obs_UVW1, "UVM2": p3_obs_UVM2, "UVW2": p3_obs_UVW2}

figs = []
for k, (models, obs, errs) in enumerate([(P1_MODELS, P1_OBS, P1_ERR), (P2_MODELS, P2_OBS, None),
                                          (P3_MODELS, P3_OBS, None)]):
    fr = FRAMES[k]
    p = make_fig(fr)
    draw_panel(p, fr, models, obs, errs, GREY_START[k])
    figs.append(p)

pA, pB, pC = figs

# big axis titles as side-panel titles
pA.add_layout(Title(text="Absolute magnitude", align="center", text_font="Liberation Sans",
                    text_font_size="84px", text_font_style="normal", text_color="black",
                    standoff=6), "left")
pB.add_layout(Title(text="Time [days]", align="left", offset=-23, text_font="Liberation Sans",
                    text_font_size="84px", text_font_style="normal", text_color="black",
                    standoff=44), "below")
pB.add_layout(Title(text="Noguchi-12", align="left", offset=167, text_font="Lato",
                    text_font_size="40px", text_font_style="normal", text_color="#FFC000",
                    standoff=2), "above")

# transparent text overlay (separate root) covering the page; data units are page pixels (y down)
pT = figure(width=PAGE_W, height=FIG_H, x_range=Range1d(0, PAGE_W), y_range=Range1d(FIG_H, 0),
            output_backend="svg", toolbar_location=None, x_axis_type=None, y_axis_type=None,
            min_border=0, min_border_left=0, min_border_right=0, min_border_top=0,
            min_border_bottom=0, background_fill_color=None, border_fill_color=None,
            outline_line_color=None,
            styles={"position": "absolute", "left": "0px", "top": "0px", "pointer-events": "none"})
pT.grid.visible = False


def add_text(px, py, text, color, font, size, baseline="middle", align="left"):
    pT.add_layout(Label(x=px, y=py, text=text, text_color=color, text_font=font,
                        text_font_size=size, text_align=align, text_baseline=baseline))


RIGHT_X = [1583, 1587, 1585, 1585, 1590, 1585, 1585, 1598, 1585, 1583]
RIGHT_Y = [173, 236, 332, 391, 449, 540, 599, 748, 824, 880]
for txt, col, lx, ly in zip(RIGHT_LABELS, RIGHT_LABEL_COLORS, RIGHT_X, RIGHT_Y):
    add_text(lx, ly, txt, col, "Lato", "47px")
STAR_X = {"sV-2": 1698, "sB+2": 1703, "sU+6": 1708}
for txt, ly in zip(RIGHT_LABELS, RIGHT_Y):
    if txt in SWIFT_LABELS:
        add_text(STAR_X[txt], ly, "*", "black", "Lato", "47px")
add_text(1450, 933, "UVM2+10", "#FFC0CB", "Lato", "47px")
add_text(1183, 923, "UVW2+12", "#BF9000", "Lato", "47px")
add_text(1833, 924, "Sato+ submitted", "black", "Liberation Sans", "62px", baseline="alphabetic")
add_text(1223, 1029, "* \u2018s\u2019 in the filter name represents the", "black",
         "Liberation Sans", "36px", baseline="alphabetic")
add_text(1279, 1093, "photometry obtained with Swift", "black",
         "Liberation Sans", "36px", baseline="alphabetic")
add_text(2130, 1091, "18", "#898989", "Liberation Sans", "30px", baseline="alphabetic")

layout = row(pA, pB, pC)
html = file_html([layout, pT], INLINE)
with open("out.html", "w", encoding="utf-8") as f:
    f.write(html)
